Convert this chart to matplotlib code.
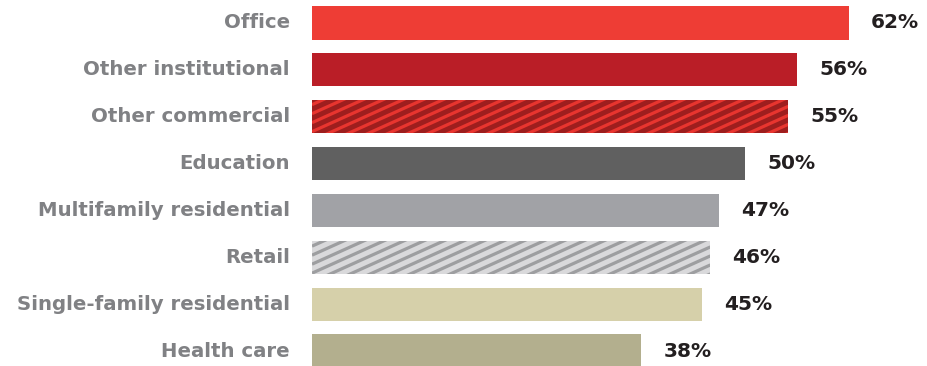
import numpy as np
import matplotlib.pyplot as plt

categories = ['Office', 'Other institutional', 'Other commercial', 'Education',
              'Multifamily residential', 'Retail', 'Single-family residential', 'Health care']
values = [62, 56, 55, 50, 47, 46, 45, 38]
colors = ['#EE3D35', '#BA1E27', '#9E1E1E', '#606060',
          '#A1A2A6', '#D9D9DB', '#D6D0AA', '#B3AF8E']
stripe_colors = [None, None, '#E8352F', None, None, '#9D9EA0', None, None]

plt.rcParams['font.family'] = ['DejaVu Sans']

fig = plt.figure(figsize=(9.28, 3.66), dpi=100)
ax = fig.add_axes([312 / 928, 0, 616 / 928, 1])

y = np.arange(len(categories))
bars = ax.barh(y, values, height=0.71, color=colors, linewidth=0)

ax.set_xlim(0, 616 / 8.66)
ax.set_ylim(7.32, -0.49)
ax.axis('off')

# value labels
for b, v in zip(bars, values):
    ax.annotate(f'{v}%', (b.get_width(), b.get_y() + b.get_height() / 2),
                xytext=(16, 0), textcoords='offset points', va='center', ha='left',
                fontsize=14.5, fontweight='bold', color='#231F20')

# category labels
for b, c in zip(bars, categories):
    ax.annotate(c, (0, b.get_y() + b.get_height() / 2),
                xytext=(-16, 0), textcoords='offset points', va='center', ha='right',
                fontsize=14.2, fontweight='bold', color='#808184')

# diagonal stripes in data units (rising to the right), clipped to the bar
ax_w_in, ax_h_in = 9.28 * 616 / 928, 3.66
xr = np.diff(ax.get_xlim())[0] / ax_w_in      # data x per inch
yr = abs(np.diff(ax.get_ylim())[0]) / ax_h_in  # data y per inch
slope_in = 0.45         # rise / run on paper
period_in = 0.09        # vertical distance between stripes on paper
for b, sc in zip(bars, stripe_colors):
    if sc is None:
        continue
    x0, x1 = b.get_x(), b.get_x() + b.get_width()
    ytop, ybot = b.get_y(), b.get_y() + b.get_height()   # y axis inverted
    run = (x1 - x0) / xr
    drop = slope_in * run * yr
    k = ybot + drop + period_in * yr
    while k > ytop - period_in * yr:
        ln, = ax.plot([x0, x1], [k, k - drop], color=sc, linewidth=2.3,
                      solid_capstyle='butt')
        ln.set_clip_path(b)
        k -= period_in * yr

fig.savefig('out.png', dpi=100)
